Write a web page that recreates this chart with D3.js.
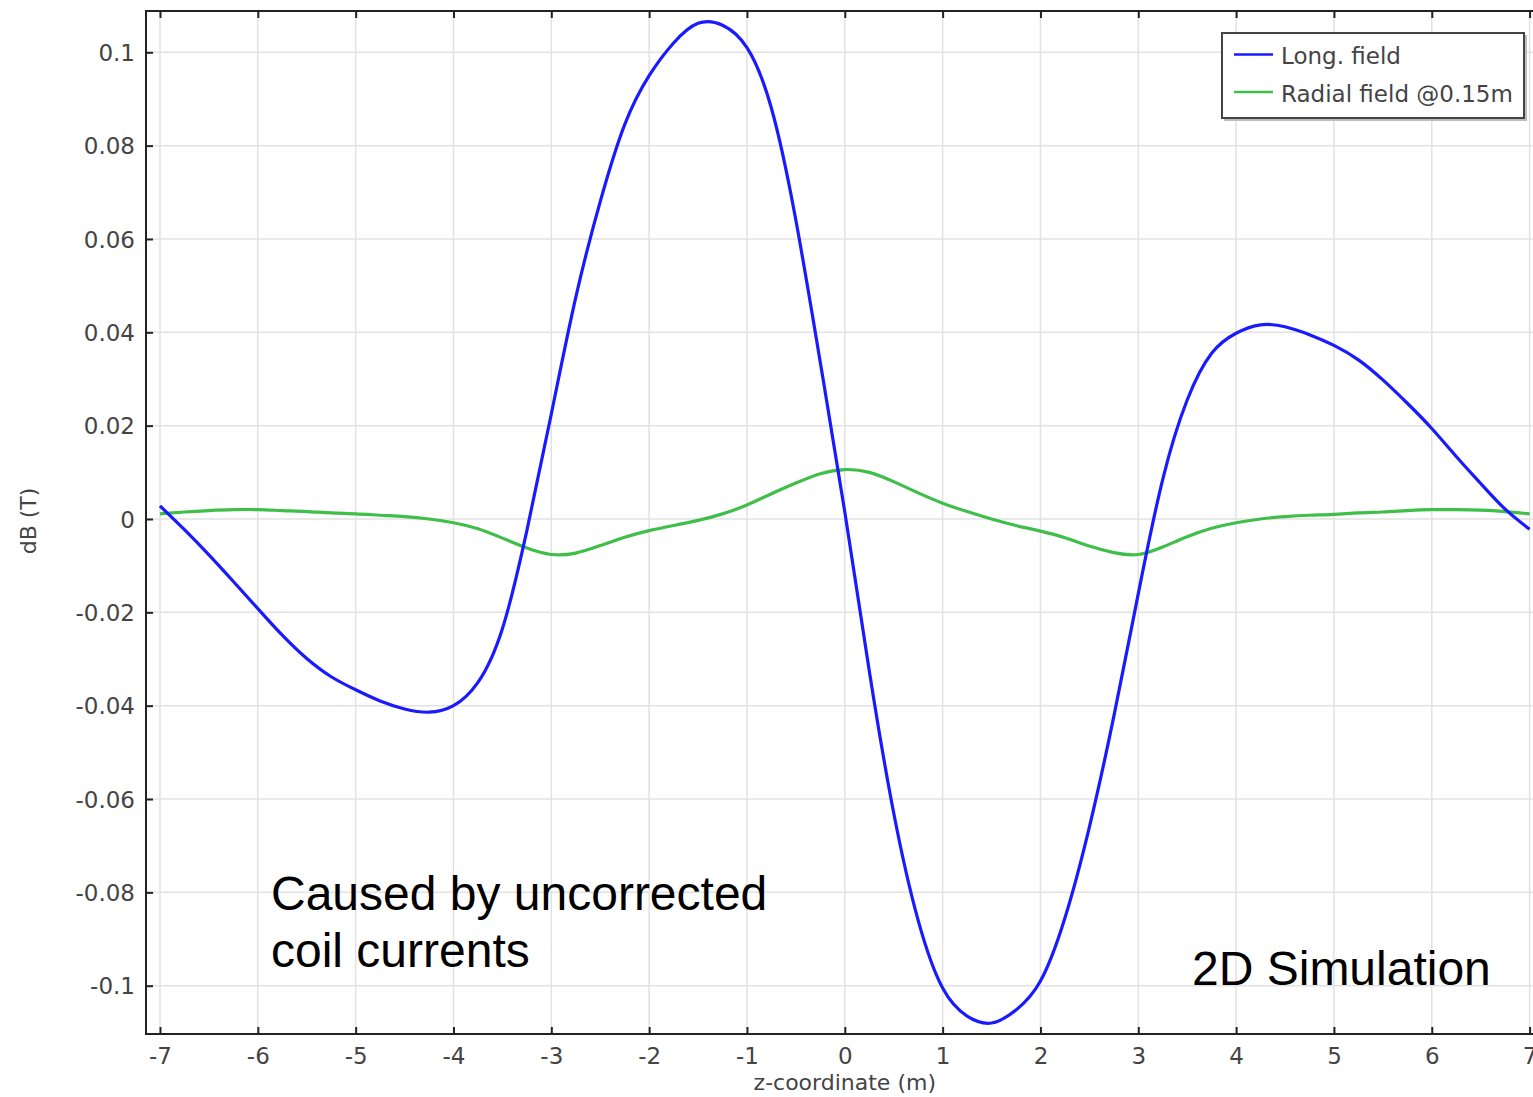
<!DOCTYPE html>
<html>
<head>
<meta charset="utf-8">
<script src="https://cdn.jsdelivr.net/npm/d3@7"></script>
<style>
  html, body { margin: 0; padding: 0; background: #fff; }
  svg { display: block; }
</style>
</head>
<body>
<script>
// z positions along the axis (m)
const zValues = [
  -7, -6.75, -6.5, -6.25, -6, -5.75, -5.5, -5.25, -5, -4.75, -4.5, -4.25,
  -4, -3.75, -3.5, -3.25, -3, -2.75, -2.5, -2.25, -2, -1.75, -1.5, -1.25,
  -1, -0.75, -0.5, -0.25, 0, 0.25, 0.5, 0.75, 1, 1.25, 1.5, 1.75,
  2, 2.25, 2.5, 2.75, 3, 3.25, 3.5, 3.75, 4, 4.25, 4.5, 4.75,
  5, 5.25, 5.5, 5.75, 6, 6.25, 6.5, 6.75, 7
];

// Longitudinal field deviation dB (T)
const longField = [
  0.0028, -0.0023, -0.0077, -0.0134, -0.0192, -0.0249, -0.0299, -0.0338, -0.0366, -0.0390, -0.0407, -0.0414,
  -0.0400, -0.0350, -0.0235, -0.0025, 0.0225, 0.0475, 0.0680, 0.0845, 0.0950, 0.1020, 0.1062, 0.1058,
  0.1010, 0.0880, 0.0640, 0.0335, 0.0015, -0.0325, -0.0630, -0.0860, -0.1005, -0.1065, -0.1080, -0.1052,
  -0.0990, -0.0855, -0.0660, -0.0423, -0.0160, 0.0085, 0.0255, 0.0355, 0.0398, 0.0416, 0.0412, 0.0395,
  0.0372, 0.0341, 0.0298, 0.0248, 0.0194, 0.0134, 0.0076, 0.0021, -0.0022
];

// Radial field deviation at r = 0.15 m, dB (T)
const radialField = [
  0.0011, 0.0015, 0.0018, 0.0020, 0.0020, 0.0018, 0.0016, 0.0013, 0.0011, 0.0008, 0.0005, 0.0000,
  -0.0008, -0.0021, -0.0041, -0.0062, -0.0076, -0.0073, -0.0057, -0.0039, -0.0025, -0.0014, -0.0003, 0.0011,
  0.0030, 0.0054, 0.0077, 0.0097, 0.0106, 0.0100, 0.0080, 0.0056, 0.0034, 0.0016, 0.0000, -0.0014,
  -0.0026, -0.0040, -0.0058, -0.0072, -0.0076, -0.0060, -0.0038, -0.0020, -0.0008, 0.0000, 0.0005, 0.0008,
  0.0010, 0.0013, 0.0015, 0.0018, 0.0020, 0.0020, 0.0019, 0.0016, 0.0011
];

const seriesNames = ["Long. field", "Radial field @0.15m"];
const seriesColors = ["#1a1aff", "#3fbf4a"];

const xTicks = [-7, -6, -5, -4, -3, -2, -1, 0, 1, 2, 3, 4, 5, 6, 7];
const xTickLabels = ["-7", "-6", "-5", "-4", "-3", "-2", "-1", "0", "1", "2", "3", "4", "5", "6", "7"];
const yTicks = [-0.1, -0.08, -0.06, -0.04, -0.02, 0, 0.02, 0.04, 0.06, 0.08, 0.1];
const yTickLabels = ["-0.1", "-0.08", "-0.06", "-0.04", "-0.02", "0", "0.02", "0.04", "0.06", "0.08", "0.1"];

const xTitle = "z-coordinate (m)";
const yTitle = "dB (T)";
const noteLines = ["Caused by uncorrected", "coil currents"];
const cornerNote = "2D Simulation";

// ---- layout ----
const W = 1533, H = 1097;
const plot = { left: 146, top: 11, right: 1543, bottom: 1034 };

const svg = d3.select("body").append("svg")
  .attr("width", W).attr("height", H)
  .style("background", "#fff");

const x = d3.scaleLinear().domain([-7, 7]).range([160, 1529.6]);
const y = d3.scaleLinear().domain([-0.1, 0.1]).range([985.7, 52.3]);

const uiFont = "'DejaVu Sans', sans-serif";
const noteFont = "'Liberation Sans', Arial, sans-serif";
const labelColor = "#444";

svg.append("defs").append("clipPath").attr("id", "plot-clip")
  .append("rect")
  .attr("x", plot.left).attr("y", plot.top)
  .attr("width", plot.right - plot.left).attr("height", plot.bottom - plot.top);

// grid
const grid = svg.append("g").attr("stroke", "#e2e2e2").attr("stroke-width", 1.5);
grid.selectAll("line.vx").data(xTicks).join("line")
  .attr("x1", d => x(d)).attr("x2", d => x(d))
  .attr("y1", plot.top).attr("y2", plot.bottom);
grid.selectAll("line.hy").data(yTicks).join("line")
  .attr("x1", plot.left).attr("x2", plot.right)
  .attr("y1", d => y(d)).attr("y2", d => y(d));

// curves (radial first so the longitudinal curve sits on top)
const curves = svg.append("g").attr("clip-path", "url(#plot-clip)");
const lineGen = vals => d3.line()
  .x((d, i) => x(zValues[i]))
  .y(d => y(d))
  .curve(d3.curveNatural)(vals);

[[radialField, 1], [longField, 0]].forEach(([vals, idx]) => {
  curves.append("path")
    .attr("d", lineGen(vals))
    .attr("fill", "none")
    .attr("stroke", seriesColors[idx])
    .attr("stroke-width", 3.2)
    .attr("stroke-linejoin", "round");
});

// frame
svg.append("rect")
  .attr("x", plot.left).attr("y", plot.top)
  .attr("width", plot.right - plot.left).attr("height", plot.bottom - plot.top)
  .attr("fill", "none").attr("stroke", "#222").attr("stroke-width", 2);

// axes with inward ticks
const xAxisBottom = d3.axisBottom(x).tickValues(xTicks)
  .tickFormat((d, i) => xTickLabels[i]).tickSize(-7).tickPadding(14);
const gxb = svg.append("g").attr("transform", `translate(0,${plot.bottom})`).call(xAxisBottom);

const xAxisTop = d3.axisTop(x).tickValues(xTicks).tickFormat("").tickSize(-7);
const gxt = svg.append("g").attr("transform", `translate(0,${plot.top})`).call(xAxisTop);

const yAxis = d3.axisLeft(y).tickValues(yTicks)
  .tickFormat((d, i) => yTickLabels[i]).tickSize(-7).tickPadding(11);
const gy = svg.append("g").attr("transform", `translate(${plot.left},0)`).call(yAxis);

[gxb, gxt, gy].forEach(g => {
  g.select(".domain").remove();
  g.selectAll(".tick line").attr("stroke", "#222").attr("stroke-width", 2);
  g.selectAll(".tick text")
    .attr("fill", labelColor)
    .style("font-family", uiFont)
    .style("font-size", "23px");
});
gy.selectAll(".tick text").attr("dy", "0.36em");

// axis titles
svg.append("text")
  .attr("x", x(0)).attr("y", 1090)
  .attr("text-anchor", "middle")
  .attr("fill", labelColor)
  .style("font-family", uiFont).style("font-size", "22px")
  .text(xTitle);

svg.append("text")
  .attr("transform", `translate(36,521) rotate(-90)`)
  .attr("text-anchor", "middle")
  .attr("fill", labelColor)
  .style("font-family", uiFont).style("font-size", "22px")
  .text(yTitle);

// legend
const lg = svg.append("g");
lg.append("rect")
  .attr("x", 1224).attr("y", 35).attr("width", 303).attr("height", 86)
  .attr("fill", "#bdbdbd");
lg.append("rect")
  .attr("x", 1222).attr("y", 33).attr("width", 302).attr("height", 85)
  .attr("fill", "#fff").attr("stroke", "#444").attr("stroke-width", 2);
seriesNames.forEach((name, i) => {
  const cy = 54.5 + i * 37.5;
  lg.append("line")
    .attr("x1", 1234).attr("x2", 1273)
    .attr("y1", cy).attr("y2", cy)
    .attr("stroke", seriesColors[i]).attr("stroke-width", 2.5);
  lg.append("text")
    .attr("x", 1281).attr("y", cy + 9.5)
    .attr("fill", labelColor)
    .style("font-family", uiFont).style("font-size", "23px")
    .text(name);
});

// annotations
const note = svg.append("text")
  .attr("fill", "#000")
  .style("font-family", noteFont).style("font-size", "48px");
noteLines.forEach((t, i) => {
  note.append("tspan").attr("x", 271).attr("y", 910 + i * 57).text(t);
});

svg.append("text")
  .attr("x", 1192).attr("y", 985)
  .attr("fill", "#000")
  .style("font-family", noteFont).style("font-size", "48px")
  .text(cornerNote);
</script>
</body>
</html>
